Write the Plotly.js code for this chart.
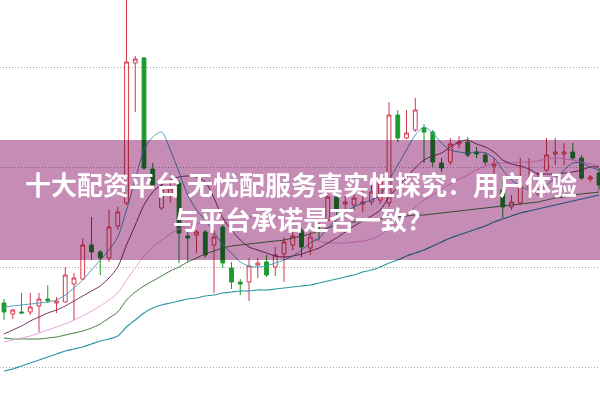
<!DOCTYPE html>
<html>
<head>
<meta charset="utf-8">
<script src="https://cdn.plot.ly/plotly-3.0.1.min.js"></script>
<style>
html,body{margin:0;padding:0;background:#fff;}
#chart{width:600px;height:401px;}
</style>
</head>
<body>
<div id="chart"></div>
<script>
// candle index (trading day)
const days = Array.from({length: 69}, (_, i) => i);

const openP  = [9.64,9.53,9.55,9.55,9.61,9.68,9.64,9.65,9.83,9.88,10.22,10.15,10.09,10.41,10.64,12.04,12.09,10.98,10.59,10.72,
                10.84,10.31,10.32,10.35,10.22,10.40,9.99,9.85,9.85,10.02,10.05,10.00,10.13,10.22,10.37,10.19,10.38,10.47,10.70,10.63,
                10.62,10.63,10.65,10.67,10.64,11.52,11.29,11.37,11.39,11.35,11.04,11.05,11.23,11.25,11.15,11.12,11.01,10.77,10.60,10.64,
                10.80,10.74,10.97,11.13,11.13,11.15,11.09,10.88,10.94];
const closeP = [9.55,9.57,9.54,9.60,9.68,9.66,9.66,9.92,9.89,10.22,10.15,10.09,10.40,10.55,12.05,12.08,10.99,10.82,10.77,10.79,
                10.34,10.29,10.35,10.12,10.30,10.04,9.85,9.83,10.01,10.04,9.92,10.12,10.25,10.31,10.20,10.30,10.36,10.70,10.57,10.65,
                10.69,10.65,10.75,10.87,11.52,11.29,11.34,11.57,11.35,11.05,10.99,11.23,11.25,11.12,11.13,11.05,11.03,10.60,10.65,10.80,
                10.84,10.77,11.12,11.15,11.15,11.09,10.89,10.90,10.82];
const highP  = [9.68,9.58,9.74,9.74,9.74,9.82,9.70,10.00,9.94,10.29,10.50,10.17,10.57,10.60,12.90,12.11,12.10,11.04,10.89,10.87,
                10.87,10.35,10.37,10.37,10.37,10.42,10.05,9.88,10.09,10.09,10.12,10.20,10.30,10.37,10.39,10.35,10.44,10.74,10.75,10.71,
                10.79,10.77,10.82,10.91,11.65,11.57,11.57,11.69,11.43,11.37,11.09,11.29,11.31,11.30,11.20,11.15,11.09,10.87,10.72,11.09,
                11.09,10.95,11.29,11.29,11.24,11.24,11.12,10.92,10.99];
const lowP   = [9.47,9.48,9.53,9.52,9.35,9.64,9.54,9.65,9.47,9.87,10.07,9.92,10.05,10.37,10.62,11.55,10.97,10.80,10.57,10.64,
                10.04,10.05,10.14,10.09,9.74,9.99,9.78,9.72,9.66,9.89,9.90,9.91,9.85,10.17,10.10,10.12,10.27,10.45,10.52,10.54,
                10.57,10.55,10.62,10.63,10.60,11.25,11.28,11.35,11.04,11.00,10.95,11.02,11.19,11.10,11.09,11.02,10.92,10.49,10.57,10.62,
                10.72,10.71,10.95,11.02,11.02,11.07,10.87,10.85,10.77];

const ma5  = [9.60,9.61,9.62,9.63,9.64,9.65,9.67,9.72,9.79,9.87,9.97,10.07,10.17,10.30,10.57,10.87,11.17,11.30,11.35,11.17,
              10.95,10.72,10.57,10.47,10.35,10.22,10.14,10.05,10.01,10.00,10.01,10.04,10.07,10.11,10.17,10.24,10.29,10.39,10.47,10.55,
              10.60,10.64,10.67,10.72,10.87,11.02,11.17,11.32,11.40,11.34,11.24,11.17,11.15,11.14,11.15,11.14,11.09,10.97,10.87,10.81,
              10.77,10.75,10.82,10.89,10.97,11.04,11.04,11.00,10.97];
const ma10 = [9.33,9.37,9.41,9.46,9.50,9.54,9.57,9.61,9.66,9.71,9.76,9.81,9.89,10.00,10.22,10.42,10.62,10.75,10.82,10.87,
              10.90,10.91,10.90,10.85,10.69,10.49,10.37,10.27,10.20,10.17,10.14,10.11,10.10,10.11,10.13,10.16,10.19,10.24,10.29,10.35,
              10.41,10.46,10.51,10.57,10.70,10.80,10.90,10.99,11.07,11.11,11.14,11.20,11.25,11.27,11.23,11.20,11.15,11.07,11.03,11.01,
              10.98,10.93,10.93,10.93,10.94,10.95,10.97,11.00,11.00];
const ma20 = [9.25,9.27,9.29,9.31,9.34,9.37,9.40,9.43,9.47,9.51,9.56,9.61,9.67,9.74,9.87,9.99,10.11,10.20,10.27,10.33,
              10.38,10.41,10.43,10.45,10.46,10.47,10.48,10.49,10.50,10.50,10.50,10.49,10.48,10.46,10.38,10.30,10.26,10.24,10.24,10.24,
              10.25,10.26,10.28,10.32,10.38,10.44,10.52,10.60,10.67,10.72,10.78,10.83,10.88,10.92,10.97,11.01,11.04,11.04,11.04,11.05,
              11.05,11.06,11.08,11.09,11.08,11.07,11.05,11.03,11.01];
const ma30 = [9.29,9.28,9.28,9.28,9.28,9.29,9.30,9.32,9.34,9.36,9.39,9.43,9.49,9.55,9.67,9.75,9.81,9.86,9.91,9.96,
              10.00,10.05,10.09,10.13,10.16,10.19,10.21,10.22,10.23,10.24,10.25,10.26,10.27,10.29,10.31,10.33,10.36,10.39,10.42,10.44,
              10.45,10.46,10.47,10.48,10.49,10.50,10.51,10.52,10.52,10.53,10.54,10.55,10.56,10.57,10.58,10.59,10.60,10.61,10.62,10.63,
              10.64,10.65,10.67,10.69,10.70,10.72,10.73,10.74,10.75];
const ma60 = [8.96,8.98,9.01,9.04,9.07,9.10,9.13,9.16,9.18,9.20,9.23,9.26,9.28,9.31,9.40,9.47,9.54,9.59,9.62,9.64,
              9.66,9.68,9.69,9.71,9.72,9.74,9.75,9.76,9.76,9.77,9.77,9.78,9.79,9.80,9.81,9.82,9.84,9.86,9.88,9.90,
              9.92,9.95,9.97,10.00,10.04,10.07,10.11,10.14,10.17,10.21,10.25,10.29,10.32,10.35,10.38,10.41,10.45,10.48,10.51,10.54,
              10.56,10.58,10.60,10.62,10.64,10.66,10.68,10.70,10.72];

const gridLevels = [9, 10, 11, 12];
const titleLines = ['十大配资平台 无忧配服务真实性探究：用户体验', '与平台承诺是否一致？'];

const RED = '#d5384c', GREEN = '#1f9a2c';

function maTrace(y, color, width) {
  return {type: 'scatter', mode: 'lines', x: days, y: y, hoverinfo: 'skip',
          line: {color: color, width: width, shape: 'spline', smoothing: 0.8}, showlegend: false};
}

const traces = [
  maTrace(ma60, '#2f95a6', 1.2),
  maTrace(ma30, '#3f7f3a', 1),
  maTrace(ma20, '#e6a2de', 1),
  maTrace(ma10, '#7c2f62', 1),
  maTrace(ma5,  '#4aa3bd', 1),
  {
    type: 'candlestick', x: days, open: openP, high: highP, low: lowP, close: closeP,
    increasing: {line: {color: RED, width: 1}, fillcolor: '#ffffff'},
    decreasing: {line: {color: GREEN, width: 1}, fillcolor: GREEN},
    whiskerwidth: 0, hoverinfo: 'skip', showlegend: false
  }
];

const H = 401;
const layout = {
  width: 600, height: 401,
  margin: {l: 0, r: 0, t: 0, b: 0, pad: 0},
  paper_bgcolor: '#ffffff', plot_bgcolor: '#ffffff',
  showlegend: false,
  boxgap: 0.38,
  xaxis: {range: [-0.457, 68.11], showgrid: false, zeroline: false, showticklabels: false,
          ticks: '', showline: false, rangeslider: {visible: false}, fixedrange: true},
  yaxis: {range: [8.66, 12.67], tickvals: gridLevels, showgrid: true, gridcolor: '#a8a8a8',
          griddash: '1px,2px', gridwidth: 1, zeroline: false, showticklabels: false, ticks: '',
          showline: false, fixedrange: true},
  shapes: [{
    type: 'rect', xref: 'paper', yref: 'paper', x0: 0, x1: 1,
    y0: 1 - 260 / H, y1: 1 - 140 / H, layer: 'above',
    fillcolor: 'rgb(197,141,181)', line: {width: 0}
  }],
  annotations: [
    {text: '<b>' + titleLines[0] + '</b>', xref: 'paper', yref: 'paper', x: 301 / 600, y: 1 - 183 / H,
     xanchor: 'center', yanchor: 'middle', showarrow: false,
     font: {family: 'Noto Sans CJK SC', size: 26, color: '#ffffff'}},
    {text: '<b>' + titleLines[1] + '</b>', xref: 'paper', yref: 'paper', x: 303 / 600, y: 1 - 218 / H,
     xanchor: 'center', yanchor: 'middle', showarrow: false,
     font: {family: 'Noto Sans CJK SC', size: 26, color: '#ffffff'}}
  ]
};

Plotly.newPlot('chart', traces, layout, {displayModeBar: false, staticPlot: true}).then(function (gd) {
  gd.querySelectorAll('.shapelayer path').forEach(function (p) { p.style.mixBlendMode = 'multiply'; });
});
</script>
</body>
</html>
